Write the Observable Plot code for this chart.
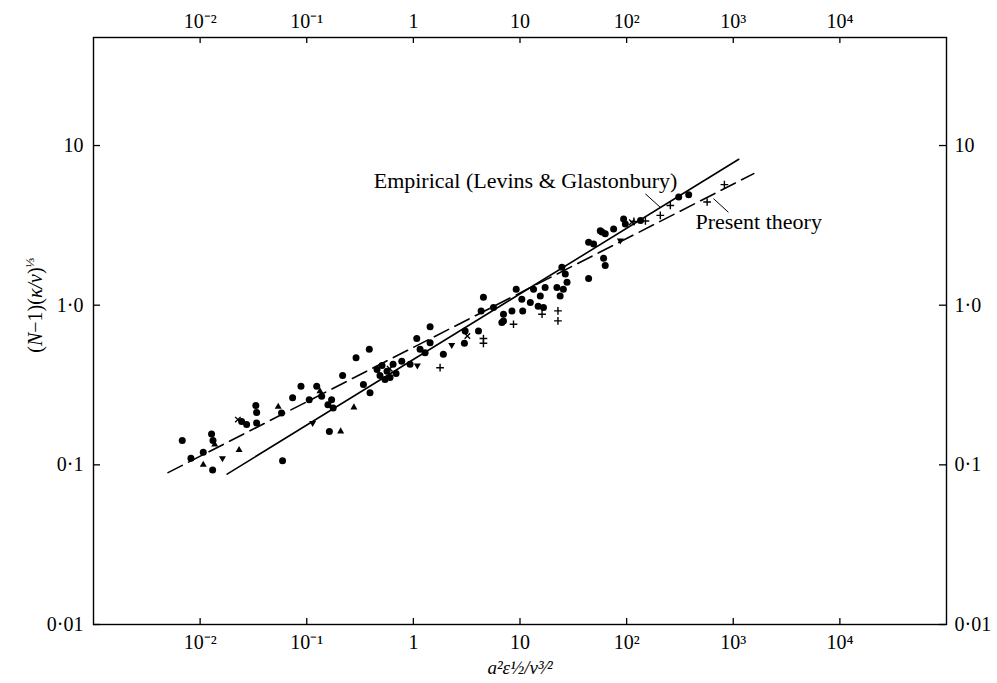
<!DOCTYPE html>
<html><head><meta charset="utf-8">
<script src="https://cdn.jsdelivr.net/npm/d3@7"></script>
<script src="https://cdn.jsdelivr.net/npm/@observablehq/plot@0.6"></script>
<style>
body{margin:0;background:#fff}
svg{font-family:"Liberation Serif","Times New Roman",serif}
</style>
</head><body><div id="chart"></div>
<script>
// x = a^2 eps^(1/2) / nu^(3/2), y = (N-1)(kappa/nu)^(1/3); kind: o circle, t triangle, v inverted triangle, + plus, x cross
const xs = [0.0068,0.0128,0.0132,0.0137,0.0082,0.0107,0.0107,0.0131,0.0162,0.0232,
            0.0226,0.0273,0.0245,0.0333,0.0339,0.0339,0.054,0.058,0.0737,0.0883,
            0.1055,0.124,0.133,0.138,0.158,0.171,0.0593,0.1136,0.163,0.208,
            0.177,0.217,0.290,0.386,0.340,0.392,0.277,
            0.456,0.508,0.566,0.604,0.645,0.688,0.542,0.486,0.60,
            0.778,0.931,1.076,1.09,1.435,1.156,1.288,1.435,1.78,1.91,
            2.29,3.06,3.21,3.01,4.08,4.54,4.54,4.32,5.64,7.0,
            8.4,6.76,8.69,10.6,12.5,16.6,16.1,4.54,7.0,9.21,
            10.4,13.4,15.5,14.8,17.2,22.7,22.7,23.8,22.2,24.7,
            26.6,27.6,25.5,44,44,49,58.7,63,60.8,63,
            75.5,87.3,97.3,112,135,93.7,117,150,207,257,
            308,382,569,826,56.6];
const ys = [0.142,0.156,0.142,0.134,0.110,0.120,0.100,0.093,0.110,0.124,
            0.192,0.179,0.187,0.235,0.213,0.183,0.231,0.211,0.263,0.311,
            0.256,0.311,0.289,0.269,0.238,0.256,0.106,0.183,0.162,0.162,
            0.227,0.363,0.469,0.529,0.319,0.283,0.229,
            0.396,0.419,0.385,0.352,0.426,0.373,0.343,0.363,0.40,
            0.446,0.426,0.618,0.419,0.734,0.529,0.504,0.582,0.406,0.492,
            0.563,0.689,0.641,0.577,0.689,0.618,0.577,0.921,0.967,0.878,
            0.921,0.778,0.760,0.921,1.04,0.967,0.878,1.12,0.797,1.26,
            1.09,1.26,1.14,0.986,1.29,0.921,0.797,1.14,1.29,1.73,
            1.57,1.39,1.26,1.47,2.48,2.42,2.87,2.80,1.97,1.77,
            3.0,2.54,3.23,3.31,3.39,3.47,3.35,3.37,3.65,4.21,
            4.76,4.92,4.43,5.69,2.93];
const kinds = ["o","o","o","t","o","o","t","o","v","t",
               "x","o","o","o","o","o","t","o","o","o",
               "o","o","t","o","o","o","o","v","o","t",
               "o","o","o","o","o","o","t",
               "o","o","o","o","o","o","o","o","x",
               "o","o","o","v","o","o","o","o","+","o",
               "v","o","x","o","o","+","+","o","o","o",
               "o","o","+","o","o","o","+","o","o","o",
               "o","o","o","o","o","+","+","o","o","o",
               "o","o","o","o","o","o","o","o","o","o",
               "o","v","o","x","o","o","+","+","+","+",
               "o","o","+","+","o"];

// correlation lines (end points)
const empiricalX = [0.0179, 1127];
const empiricalY = [0.0875, 8.2];
const theoryX = [0.0050, 1557];
const theoryY = [0.0894, 6.67];

const xTicks = [1e-2, 1e-1, 1, 10, 100, 1000, 1e4];
const xTickLabels = ["10⁻²", "10⁻¹", "1", "10", "10²", "10³", "10⁴"];
const yTicks = [0.01, 0.1, 1, 10];
const yTickLabels = ["0·01", "0·1", "1·0", "10"];

const W = 997, H = 683, mL = 93, mR = 51, mT = 37, mB = 59;
const fw = W - mL - mR, fh = H - mT - mB;
const pts = xs.map((x, i) => ({x, y: ys[i], k: kinds[i]}));
const of = k => pts.filter(d => d.k === k);
const empirical = empiricalX.map((x, i) => ({x, y: empiricalY[i]}));
const theory = theoryX.map((x, i) => ({x, y: theoryY[i]}));
const fx = d => xTickLabels[xTicks.indexOf(d)];
const fy = d => yTickLabels[yTicks.indexOf(d)];

const plot = Plot.plot({
  width: W, height: H,
  marginLeft: mL, marginRight: mR, marginTop: mT, marginBottom: mB,
  x: {type: "log", domain: [1e-3, 1e5]},
  y: {type: "log", domain: [0.01, 47.5]},
  style: {fontFamily: "'Liberation Serif', serif", fontSize: "20px", color: "#000", background: "#fff", overflow: "visible"},
  marks: [
    Plot.frame({stroke: "#000", strokeWidth: 1.4}),
    Plot.axisX(xTicks, {anchor: "bottom", tickSize: 0, tickPadding: 10, tickFormat: fx, label: null, fontSize: 20}),
    Plot.axisX(xTicks, {anchor: "top", tickSize: 0, tickPadding: 10, tickFormat: fx, label: null, fontSize: 20}),
    Plot.axisY(yTicks, {anchor: "left", tickSize: 0, tickPadding: 10, tickFormat: fy, label: null, fontSize: 20}),
    Plot.axisY(yTicks, {anchor: "right", tickSize: 0, tickPadding: 8, tickFormat: fy, label: null, fontSize: 20}),
    Plot.tickX(xTicks, {x: d => d, insetTop: fh - 6, stroke: "#000", strokeWidth: 1.3}),
    Plot.tickX(xTicks, {x: d => d, insetBottom: fh - 6, stroke: "#000", strokeWidth: 1.3}),
    Plot.tickY(yTicks, {y: d => d, insetRight: fw - 7, stroke: "#000", strokeWidth: 1.3}),
    Plot.tickY(yTicks, {y: d => d, insetLeft: fw - 7, stroke: "#000", strokeWidth: 1.3}),
    Plot.line(empirical, {x: "x", y: "y", stroke: "#000", strokeWidth: 1.6}),
    Plot.line(theory, {x: "x", y: "y", stroke: "#000", strokeWidth: 1.6, strokeDasharray: "16,7"}),
    Plot.dot(of("o"), {x: "x", y: "y", r: 3.5, fill: "#000", stroke: "none"}),
    Plot.dot(of("t"), {x: "x", y: "y", symbol: "triangle", r: 2.6, fill: "#000", stroke: "none"}),
    Plot.dot(of("v"), {x: "x", y: "y", symbol: "triangle", r: 2.6, rotate: 180, fill: "#000", stroke: "none"}),
    Plot.dot(of("+"), {x: "x", y: "y", symbol: "plus", r: 2.6, stroke: "#000", strokeWidth: 1.4}),
    Plot.dot(of("x"), {x: "x", y: "y", symbol: "times", r: 2.6, stroke: "#000", strokeWidth: 1.4}),
    Plot.link([{x1: 150, y1: 4.98, x2: 207, y2: 4.10}, {x1: 652, y1: 4.65, x2: 901, y2: 3.82}],
      {x1: "x1", y1: "y1", x2: "x2", y2: "y2", stroke: "#000", strokeWidth: 1}),
    Plot.text([{x: 299, y: 6.04, t: "Empirical (Levins & Glastonbury)"}],
      {x: "x", y: "y", text: "t", textAnchor: "end", fontSize: 22, fill: "#000"}),
    Plot.text([{x: 442, y: 3.31, t: "Present theory"}],
      {x: "x", y: "y", text: "t", textAnchor: "start", fontSize: 22, fill: "#000"}),
    Plot.text(["a²ε½/ν³⁄²"], {frameAnchor: "bottom", dy: 49, text: d => d, textAnchor: "middle", fontSize: 19, fontStyle: "italic", fill: "#000"}),
    Plot.text([1], {frameAnchor: "left", y: d => d, dx: -58, rotate: -90, textAnchor: "middle", text: () => "YLABEL", fontSize: 20, fill: "#000"})
  ]
});

const svg = d3.select(plot);
svg.selectAll("text").filter(function(){ return this.textContent === "YLABEL"; }).each(function(){
  const t = d3.select(this); t.text(null);
  t.append("tspan").text("(");
  t.append("tspan").attr("font-style", "italic").text("N");
  t.append("tspan").text("−1)(");
  t.append("tspan").attr("font-style", "italic").text("κ/ν");
  t.append("tspan").text(")");
  t.append("tspan").attr("font-size", "13px").attr("dy", "-8").text("⅓");
});
document.getElementById("chart").appendChild(plot);
</script>
</body></html>
